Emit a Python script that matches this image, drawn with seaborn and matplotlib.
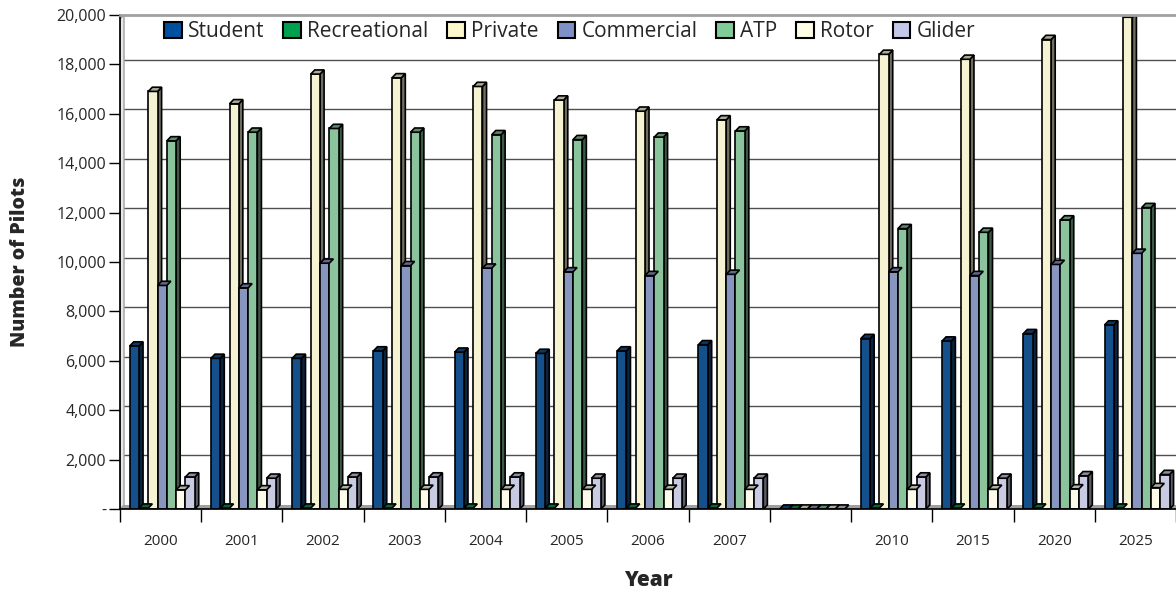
import numpy as np
import pandas as pd
import matplotlib
matplotlib.use("Agg")
import matplotlib.pyplot as plt
import matplotlib.colors as mcolors
from matplotlib.patches import Patch, Polygon
from matplotlib.ticker import FuncFormatter, FixedLocator
import seaborn as sns

# data (blank slot between 2007 and 2010 kept as zeros)
years = ["2000", "2001", "2002", "2003", "2004", "2005", "2006", "2007", " ",
         "2010", "2015", "2020", "2025"]
student = [6600, 6100, 6100, 6400, 6350, 6300, 6400, 6650, 0, 6900, 6800, 7100, 7450]
recreational = [40, 40, 40, 40, 40, 40, 40, 40, 0, 40, 40, 40, 40]
private = [16900, 16400, 17600, 17450, 17100, 16550, 16100, 15750, 0, 18400, 18200, 19000, 19900]
commercial = [9050, 8950, 9950, 9850, 9750, 9600, 9450, 9500, 0, 9600, 9450, 9900, 10350]
atp = [14900, 15250, 15400, 15250, 15150, 14950, 15050, 15300, 0, 11350, 11200, 11700, 12200]
rotor = [780, 780, 800, 800, 800, 800, 800, 800, 0, 800, 800, 820, 870]
glider = [1300, 1250, 1300, 1300, 1300, 1250, 1250, 1250, 0, 1300, 1250, 1350, 1400]

series = ["Student", "Recreational", "Private", "Commercial", "ATP", "Rotor", "Glider"]
colors = ["#0050A0", "#00A050", "#FCF8CC", "#7F90C8", "#80CC98", "#FFFDE6", "#C4C8E8"]

values = [student, recreational, private, commercial, atp, rotor, glider]
df = pd.DataFrame({
    "Year": years * len(series),
    "Type": np.repeat(series, len(years)),
    "Pilots": np.concatenate(values),
})

sns.set_theme(style="white")
plt.rcParams["font.family"] = ["Open Sans", "DejaVu Sans"]

fig = plt.figure(figsize=(11.76, 5.92), dpi=100)
ax = fig.add_axes([0.102, 0.140, 0.898, 0.835])

DY = 170      # depth of the fake 3D in data units (y)
DX = 0.05     # depth in category units (x)
SHIFT = 0.02  # groups sit a little right of the category centre

# floor and back-wall gridlines
ax.axhspan(0, DY, xmin=0, xmax=1, color="#A0A0A0", zorder=0, lw=0)
for v in range(2000, 20001, 2000):
    ax.plot([-0.5 + DX, 12.6], [v + DY, v + DY], color="#505050", lw=1, zorder=0.5)
ax.add_patch(Polygon([(-0.5, 0), (-0.5 + DX, DY), (-0.5 + DX, 20000), (-0.5, 20000 - DY)],
                     closed=True, facecolor="#E8E8E8", edgecolor="#A0A0A0", lw=1, zorder=0.6))

n_before = len(ax.patches)
sns.barplot(data=df, x="Year", y="Pilots", hue="Type", order=years, hue_order=series,
            palette=colors, width=0.8, gap=0, edgecolor="black", linewidth=1.2,
            legend=False, ax=ax, zorder=2, err_kws={"linewidth": 0})
bars = list(ax.patches)[n_before:]

# add side and top faces to every bar
for p in bars:
    p.set_x(p.get_x() + SHIFT)
    x0 = p.get_x()
    w = p.get_width()
    h = p.get_height()
    x1 = x0 + w
    fc = np.array(mcolors.to_rgb(p.get_facecolor()))
    side = Polygon([(x1, 0), (x1 + DX, DY), (x1 + DX, h + DY), (x1, h)], closed=True,
                   facecolor=fc * 0.45, edgecolor="black", lw=1.2, zorder=1.9)
    top = Polygon([(x0, h), (x0 + DX, h + DY), (x1 + DX, h + DY), (x1, h)], closed=True,
                  facecolor=fc * 0.7, edgecolor="black", lw=1.2, zorder=2.1)
    ax.add_patch(side)
    ax.add_patch(top)

ax.set_xlim(-0.5, 12.5)
ax.set_ylim(0, 20000)

ax.yaxis.set_major_locator(FixedLocator(range(0, 20001, 2000)))
ax.yaxis.set_major_formatter(FuncFormatter(lambda v, _: "-" if v == 0 else f"{int(v):,}"))
ax.tick_params(axis="y", left=True, length=8, width=1, color="black", labelsize=11.5, pad=2)

ax.xaxis.set_minor_locator(FixedLocator(np.arange(-0.5, 13, 1)))
ax.tick_params(axis="x", which="major", length=0, labelsize=11, pad=18)
ax.tick_params(axis="x", which="minor", bottom=True, length=9, width=1, color="black")

ax.spines["right"].set_visible(False)
ax.spines["top"].set_color("#A0A0A0")
ax.spines["top"].set_linewidth(2)
ax.spines["left"].set_color("black")
ax.spines["bottom"].set_color("black")

ax.set_xlabel("Year", fontsize=15, fontweight="heavy", labelpad=15)
ax.set_ylabel("Number of Pilots", fontsize=14, fontweight="heavy")
ax.yaxis.set_label_coords(-0.085, 0.5)

handles = [Patch(facecolor=c, edgecolor="black", linewidth=1.5) for c in colors]
ax.legend(handles, series, loc="upper left", bbox_to_anchor=(0.032, 1.008), ncol=7,
          frameon=False, fontsize=15, handlelength=0.85, handleheight=0.85,
          handletextpad=0.3, columnspacing=0.9, borderaxespad=0.1)

fig.savefig("out.png", dpi=100)
